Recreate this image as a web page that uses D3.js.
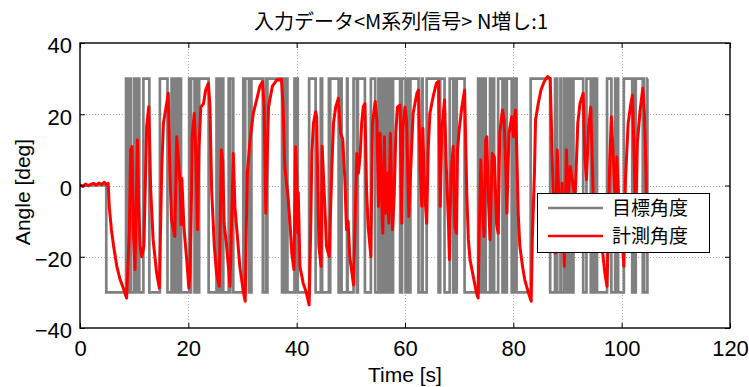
<!DOCTYPE html>
<html>
<head>
<meta charset="utf-8">
<script src="https://cdn.jsdelivr.net/npm/d3@7"></script>
<style>
  body { margin: 0; background: #fff; }
  svg { display: block; }
</style>
</head>
<body>
<svg id="chart" width="749" height="387"></svg>
<script>
// ---- data -------------------------------------------------------------
const chartTitle = "入力データ<M系列信号> N増し:1";
const xLabel = "Time [s]";
const yLabel = "Angle [deg]";
const xTicks = [0, 20, 40, 60, 80, 100, 120];
const yTicks = [-40, -20, 0, 20, 40];
const seriesNames = ["目標角度", "計測角度"];

// target angle: [time s, level deg], held until the next entry
const targetSteps = [
  [0, 0], [4.85, -30],
  [8.5, 30], [8.7, -30], [8.85, 30], [9.35, -30],
  [9.95, 30], [10.1, -30], [10.25, 30], [10.6, -30], [10.75, 30], [10.95, -30],
  [11.7, 30], [12.8, -30],
  [14.75, 30], [16.15, -30],
  [16.9, 30], [17.05, -30], [17.55, 30], [17.85, -30], [18.05, 30], [18.2, -30], [18.5, 30], [18.65, -30],
  [20.15, 30], [20.35, -30], [20.5, 30], [21.15, -30], [21.3, 30], [21.4, -30], [21.7, 30], [21.85, -30], [22.0, 30], [23.75, -30],
  [25.2, 30], [25.35, -30], [25.75, 30], [26.15, -30], [26.3, 30], [26.45, -30],
  [27.45, 30], [27.6, -30], [27.75, 30], [28.3, -30],
  [30.15, 30], [30.3, -30], [30.5, 30], [31.2, -30], [31.35, 30], [31.55, -30], [31.65, 30], [33.75, -30],
  [34.3, 30], [34.5, -30], [34.6, 30], [37.3, -30],
  [37.8, 30], [37.95, -30], [38.2, 30], [38.3, -30],
  [39.6, 30], [39.85, -30], [40.05, 30], [40.2, -30],
  [42.3, 30], [43.5, -30],
  [44.45, 30], [44.7, -30],
  [45.95, 30], [46.1, -30], [46.2, 30], [47.75, -30], [48.1, 30], [48.3, -30],
  [49.3, 30], [49.4, -30], [50.5, 30], [51.1, -30], [51.3, 30], [52.6, -30],
  [53.7, 30], [54.5, -30],
  [55.1, 30], [55.4, -30], [55.9, 30], [56.2, -30], [56.35, 30], [56.5, -30], [56.7, 30], [56.85, -30],
  [57.0, 30], [57.2, -30], [57.35, 30], [57.55, -30], [57.8, 30], [59.1, -30],
  [59.45, 30], [60.1, -30], [60.2, 30], [60.35, -30], [60.75, 30], [60.9, -30], [61.0, 30], [62.5, -30],
  [63.1, 30], [63.25, -30], [64.0, 30], [66.2, -30], [66.5, 30], [67.3, -30],
  [68.25, 30], [68.9, -30], [69.25, 30], [69.4, -30], [69.55, 30], [71.0, -30],
  [73.5, 30], [74.0, -30], [74.45, 30], [74.9, -30], [75.7, 30], [76.1, -30], [76.3, 30], [76.45, -30],
  [77.2, 30], [78.0, -30], [78.15, 30], [78.3, -30], [78.8, 30], [79.7, -30], [79.9, 30], [80.4, -30], [80.5, 30], [80.6, -30],
  [83.2, 30], [86.8, -30],
  [87.7, 30], [88.1, -30], [88.7, 30], [88.85, -30], [89.4, 30], [89.8, -30], [90.0, 30], [90.15, -30],
  [90.3, 30], [90.5, -30], [90.7, 30], [90.85, -30], [91.1, 30], [92.9, -30], [93.5, 30], [94.3, -30],
  [94.5, 30], [94.6, -30], [94.95, 30], [95.1, -30], [95.3, 30], [95.45, -30],
  [97.3, 30], [98.1, -30], [98.8, 30], [99.0, -30], [99.2, 30], [99.35, -30],
  [100.4, 30], [101.95, -30], [102.1, 30], [102.2, -30], [102.6, 30], [103.9, -30], [104.05, 30], [104.15, -30],
  [104.75, 30], [104.85, 30]
];

// measured angle: [time s, angle deg]
const measuredPoints = [
  [0, 0.2], [0.5, -0.3], [1, 0.4], [1.5, -0.1], [2, 0.3], [2.5, 0.6], [3, 0.1], [3.5, 0.7], [4, 0.3], [4.5, 0.9], [4.9, 0.2], [5.2, 0.6],
  [5.4, -5.9], [5.8, -12.4], [6.2, -17], [6.8, -22.7], [7.4, -26.4], [8.0, -28.8], [8.6, -31.6],
  [9.1, -13.4], [9.35, 10], [9.6, 10.9], [9.72, 0], [9.85, -13], [10.15, -23.6],
  [10.6, 12.8], [10.8, -4], [11.1, -17], [11.4, -20], [11.8, -17], [12.3, 16.5], [12.7, 22.1],
  [13.05, -1.2], [13.5, -15.2], [14.15, -24.6], [14.65, -28.8],
  [15.1, 5.3], [15.4, 17.5], [16.0, 23], [16.3, 25.9],
  [16.6, 3.5], [16.9, -9.6], [17.5, -14.3], [17.85, 13.7], [18.15, 8], [18.5, 0], [18.65, -11], [18.8, 2], [19.2, -12], [19.7, -20.8], [20.1, -28.8], [20.3, -25],
  [20.6, -1.2], [20.7, 13.7], [21.1, 20.3], [21.35, 10], [21.7, -12.4], [21.95, 10], [22.3, 22], [22.8, 23], [23.2, 26.8], [23.7, 28.7], [24.0, 22],
  [24.3, -1.2], [24.8, -17.1], [25.2, -24.6], [25.7, -28.3],
  [26.1, 10], [26.35, 7], [26.6, -10.6], [27.0, -16], [27.5, -24.6], [27.7, -28.3],
  [28.3, 9], [28.6, -5.9], [29.1, -15.2], [29.5, -22.7], [30.1, -29.3], [30.5, -32.5],
  [30.7, -12], [30.9, 3.5], [31.4, 12.8], [32.0, 20.3], [32.6, 24], [33.2, 27.8], [33.7, 29.2], [34.0, 22],
  [34.3, -7.8], [34.8, 22], [35.5, 27.8], [36.3, 29.6], [37.2, 29.8], [37.5, 22],
  [37.8, 5.3], [38.4, -3], [38.8, -11.5], [39.1, -19], [39.5, -23.6],
  [39.8, 10.9], [40.0, 3], [40.2, -13.4], [40.3, -2], [40.6, -22.7], [41.2, -27.4], [41.8, -30.2], [42.3, -33.5],
  [42.6, -11.5], [42.8, 9], [43.1, 17.5], [43.5, 20.7], [43.7, 19],
  [43.9, 0], [44.1, -17], [44.5, -22.7], [44.7, 11], [45.2, -5.9], [45.5, -17], [46.0, -20],
  [46.5, 5.3], [46.8, 17.5], [47.2, 22], [47.7, 24.5], [48.1, 14.7], [48.5, 13], [48.9, 1.6], [49.2, -12.4], [49.5, -10], [49.8, -20], [50.5, -27.9],
  [50.8, -9.6], [51.1, 9], [51.4, 3.5], [51.7, 8], [52.0, 17.5], [52.3, 22.1], [52.6, 23],
  [52.9, -1.2], [53.2, -11.5], [53.7, -20], [54.0, 17.5], [54.5, 23.6], [54.8, 18.5],
  [55.1, -5.9], [55.4, 14.7], [55.7, -4], [55.9, -13.4], [56.2, 13.7], [56.4, -7.8], [56.7, 3.5], [57.0, -10.6], [57.3, 14.7], [57.7, -12.4], [58.0, -3], [58.3, 14.7], [58.6, 22], [59.1, 22.6],
  [59.4, -10.6], [59.6, 16], [60.0, 22], [60.3, 18], [60.7, -8.7], [61.2, 10], [61.5, 20.3], [62.2, 25.9], [62.5, 26.8],
  [62.8, 5], [63.1, -5.9], [63.3, 16], [63.6, -1], [64.0, -10.6], [64.3, 11], [64.6, 20.3], [65.2, 25], [65.8, 28.7], [66.2, 29.2],
  [66.35, 12.7], [66.5, -5.9], [66.8, 15.7], [67.3, 24], [67.6, 6.3], [68.0, -9.6], [68.2, -20.8], [68.5, 3.5], [68.9, 11], [69.2, -11.5], [69.5, -13.4], [69.7, 10], [70.0, 15.6], [70.5, 22], [71.0, 26.8],
  [71.2, 12.7], [71.4, -2.1], [71.7, -15.2], [72.0, -20.8], [72.6, -25.5], [73.2, -30.2], [73.5, -31.6],
  [73.7, -13.4], [74.0, 7.2], [74.3, -5.9], [74.6, -14.3], [74.9, 12.8], [75.1, 13.7], [75.4, -4], [75.7, -15.2], [76.1, 9], [76.5, 8], [76.9, -10.6], [77.2, -13.4],
  [77.5, 14.7], [78.0, 21.2], [78.3, 18.4], [78.6, 5.3], [78.8, -7.8], [79.2, 14.7], [79.7, 19.3], [80.0, 13.7], [80.4, 21.2],
  [80.6, 11.7], [80.9, -7.8], [81.2, -17], [81.7, -22.7], [82.1, -26.4], [82.8, -30.2], [83.3, -32.5],
  [83.5, -15.2], [83.9, 3.5], [84.1, 18.4], [84.6, 23], [85.1, 26.8], [85.7, 29.2], [86.3, 30.6], [86.8, 30],
  [87.1, 12.7], [87.4, -5.9], [87.7, -19], [88.1, 10], [88.5, -7.8], [88.7, -15.2], [89.0, 0.6], [89.4, -22.7], [89.8, 10], [90.1, -4], [90.5, 5.3], [90.9, 1.6], [91.4, -4],
  [91.9, 17.5], [92.3, 23], [92.9, 25.9],
  [93.2, 8], [93.5, 1.6], [93.9, 16.5], [94.3, 22], [94.6, 5.3], [94.9, -11.5], [95.2, -7.8], [95.5, -11.5], [96.0, -15.2], [96.5, -19], [96.9, -24.6], [97.3, -28.3],
  [97.5, -15.2], [97.8, 7.2], [98.1, 19.3], [98.4, 10], [98.8, -5.9], [99.1, 8], [99.5, -5.9], [99.9, -10.6], [100.4, -22.7],
  [100.7, 1.6], [101.2, 17.5], [101.7, 23], [102.0, 25.4], [102.3, 8], [102.6, -11.5], [102.9, 12], [103.4, 21], [103.9, 27.3], [104.2, 20], [104.5, 3.5], [104.7, -19]
];

// ---- layout ------------------------------------------------------------
const svg = d3.select("#chart");
const plot = { left: 80, right: 730, top: 43, bottom: 328 };
const latinFont = "'Liberation Sans', Arial, sans-serif";
const tickFont = "'Liberation Sans Narrow', 'Liberation Sans', sans-serif";
const cjkFont = "'Noto Sans CJK JP', 'Noto Sans', sans-serif";

const x = d3.scaleLinear().domain([0, 120]).range([plot.left, plot.right]);
const y = d3.scaleLinear().domain([-40, 40]).range([plot.bottom, plot.top]);

svg.append("rect").attr("width", 749).attr("height", 387).attr("fill", "#fff");

// dotted grid
const grid = svg.append("g").attr("stroke", "#b0b0b0").attr("stroke-width", 1).attr("stroke-dasharray", "1,2");
grid.selectAll("line.gx").data(xTicks.slice(1, -1)).join("line")
  .attr("x1", d => Math.round(x(d)) + 0.5).attr("x2", d => Math.round(x(d)) + 0.5)
  .attr("y1", plot.top).attr("y2", plot.bottom);
grid.selectAll("line.gy").data(yTicks.slice(1, -1)).join("line")
  .attr("y1", d => Math.round(y(d)) + 0.5).attr("y2", d => Math.round(y(d)) + 0.5)
  .attr("x1", plot.left).attr("x2", plot.right);

// series
svg.append("defs").append("clipPath").attr("id", "plotClip")
  .append("rect").attr("x", plot.left).attr("y", plot.top)
  .attr("width", plot.right - plot.left).attr("height", plot.bottom - plot.top);
const series = svg.append("g").attr("clip-path", "url(#plotClip)");

const stepLine = d3.line().x(d => x(d[0])).y(d => y(d[1])).curve(d3.curveStepAfter);
const measLine = d3.line().x(d => x(d[0])).y(d => y(d[1]));

series.append("path").datum(targetSteps)
  .attr("d", stepLine).attr("fill", "none")
  .attr("stroke", "#808080").attr("stroke-width", 2.7).attr("stroke-linejoin", "miter");
series.append("path").datum(measuredPoints)
  .attr("d", measLine).attr("fill", "none")
  .attr("stroke", "#ff0000").attr("stroke-width", 3).attr("stroke-linejoin", "round");

// axes box with inward ticks on all four sides
const axisG = svg.append("g");
const mkAxis = (axis, tr) => {
  const g = axisG.append("g").attr("transform", tr).call(axis);
  g.select(".domain").remove();
  g.selectAll(".tick line").attr("stroke", "#000");
  return g;
};
const bottomAx = mkAxis(d3.axisBottom(x).tickValues(xTicks).tickSizeInner(-5).tickSizeOuter(0).tickPadding(12), `translate(0,${plot.bottom})`);
mkAxis(d3.axisTop(x).tickValues(xTicks).tickSizeInner(-5).tickSizeOuter(0).tickFormat(""), `translate(0,${plot.top})`);
const leftAx = mkAxis(d3.axisLeft(y).tickValues(yTicks).tickSizeInner(-5).tickSizeOuter(0).tickPadding(8), `translate(${plot.left},0)`);
mkAxis(d3.axisRight(y).tickValues(yTicks).tickSizeInner(-5).tickSizeOuter(0).tickFormat(""), `translate(${plot.right},0)`);

const minus = s => String(s).replace("-", "\u2212");
bottomAx.selectAll(".tick text").text(d => minus(d))
  .attr("font-family", tickFont).attr("font-size", 22).attr("fill", "#000");
leftAx.selectAll(".tick text").text(d => minus(d))
  .attr("font-family", tickFont).attr("font-size", 22).attr("fill", "#000").attr("dy", "0.45em");

svg.append("rect")
  .attr("x", plot.left).attr("y", plot.top)
  .attr("width", plot.right - plot.left).attr("height", plot.bottom - plot.top)
  .attr("fill", "none").attr("stroke", "#000").attr("stroke-width", 1.4);

// labels
svg.append("text").attr("x", 401).attr("y", 29)
  .attr("text-anchor", "middle").attr("font-family", cjkFont).attr("font-size", 20)
  .text(chartTitle);
svg.append("text").attr("x", (plot.left + plot.right) / 2).attr("y", 382)
  .attr("text-anchor", "middle").attr("font-family", latinFont).attr("font-size", 21)
  .text(xLabel);
svg.append("text").attr("transform", "translate(30,192) rotate(-90)")
  .attr("text-anchor", "middle").attr("font-family", latinFont).attr("font-size", 21)
  .text(yLabel);

// legend
const legend = svg.append("g");
legend.append("rect").attr("x", 537.5).attr("y", 193.5).attr("width", 172).attr("height", 59)
  .attr("fill", "#fff").attr("stroke", "#000").attr("stroke-width", 1);
const legendColors = ["#808080", "#ff0000"];
seriesNames.forEach((name, i) => {
  const cy = 208 + i * 28;
  legend.append("line").attr("x1", 548).attr("x2", 603).attr("y1", cy).attr("y2", cy)
    .attr("stroke", legendColors[i]).attr("stroke-width", 2.7);
  legend.append("text").attr("x", 612).attr("y", cy).attr("dy", "0.36em")
    .attr("font-family", cjkFont).attr("font-size", 19).attr("fill", "#000")
    .text(name);
});
</script>
</body>
</html>
